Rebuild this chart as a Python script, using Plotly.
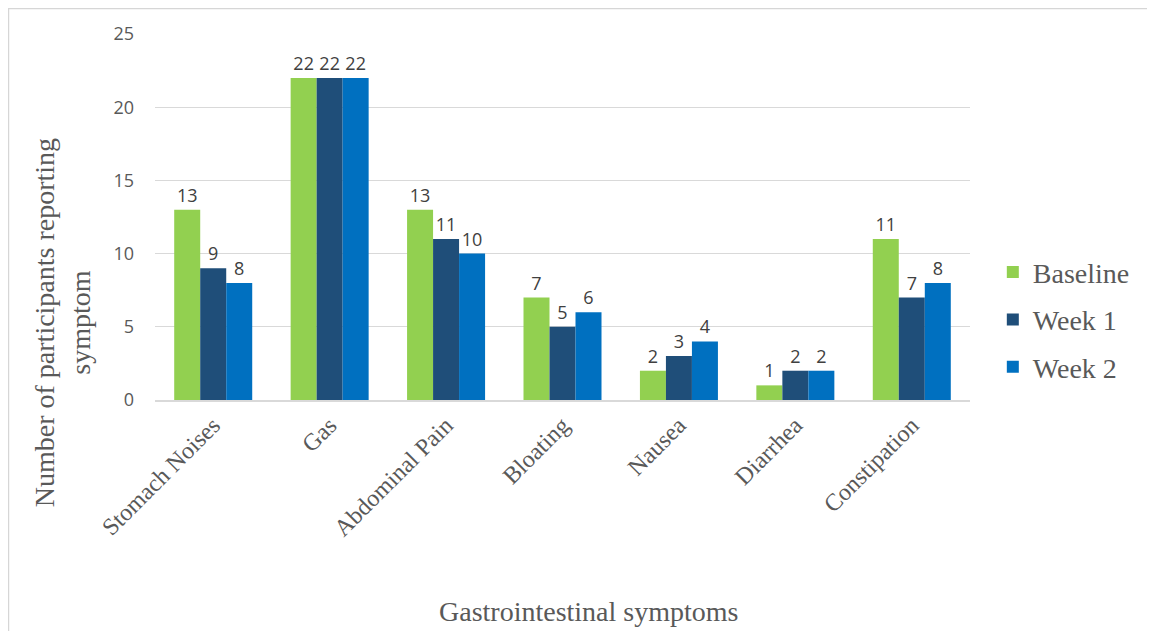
import plotly.graph_objects as go

categories = ["Stomach Noises", "Gas", "Abdominal Pain", "Bloating", "Nausea", "Diarrhea", "Constipation"]
baseline = [13, 22, 13, 7, 2, 1, 11]
week1 = [9, 22, 11, 5, 3, 2, 7]
week2 = [8, 22, 10, 6, 4, 2, 8]
series_names = ["Baseline", "Week 1", "Week 2"]
colors = ["#92D050", "#1F4E79", "#0070C0"]

SERIF = "Liberation Serif, Times New Roman, serif"
SANS = "Open Sans, Lato, sans-serif"

fig = go.Figure()
for name, vals, col in zip(series_names, [baseline, week1, week2], colors):
    fig.add_trace(go.Bar(
        x=categories, y=vals, name=name, legendgroup=name,
        marker=dict(color=col, line=dict(width=0)),
        text=[str(v) for v in vals], textposition="outside",
        textfont=dict(family=SANS, size=18, color="#404040"),
        cliponaxis=False,
    ))

fig.update_layout(
    width=1155, height=631,
    margin=dict(l=147, r=193, t=26, b=239),
    paper_bgcolor="white", plot_bgcolor="white",
    barmode="group", bargap=0.33, bargroupgap=0,
    showlegend=True,
    legend=dict(x=1.028, y=0.219, yanchor="middle", xanchor="left",
                font=dict(family=SERIF, size=28, color="#595959"),
                tracegroupgap=8, itemsizing="constant"),
    xaxis=dict(
        tickangle=-45, showgrid=False, showline=True, linecolor="#d9d9d9", linewidth=1.5,
        ticks="", automargin=False,
        tickfont=dict(family=SERIF, size=24, color="#595959"),
    ),
    yaxis=dict(
        range=[0, 25], dtick=5, showgrid=True, gridcolor="#d9d9d9", gridwidth=1,
        zeroline=False, showline=False, ticks="", ticklabelstandoff=20, automargin=False,
        tickfont=dict(family=SANS, size=18, color="#595959"),
    ),
    annotations=[
        dict(text="Number of participants reporting<br>symptom", xref="paper", yref="paper",
             x=-0.114, y=0.21, xanchor="center", yanchor="middle", textangle=-90,
             showarrow=False, font=dict(family=SERIF, size=28, color="#595959")),
        dict(text="Gastrointestinal symptoms", xref="paper", yref="paper",
             x=0.5325, y=-0.579, xanchor="center", yanchor="middle",
             showarrow=False, font=dict(family=SERIF, size=28, color="#595959")),
    ],
    shapes=[dict(type="rect", xref="paper", yref="paper",
                 x0=-0.1804, x1=1.3, y0=-0.8, y1=1.071,
                 line=dict(color="#d6d6d6", width=2.5), fillcolor="rgba(0,0,0,0)", layer="below")],
)

fig.write_html("out.html")
